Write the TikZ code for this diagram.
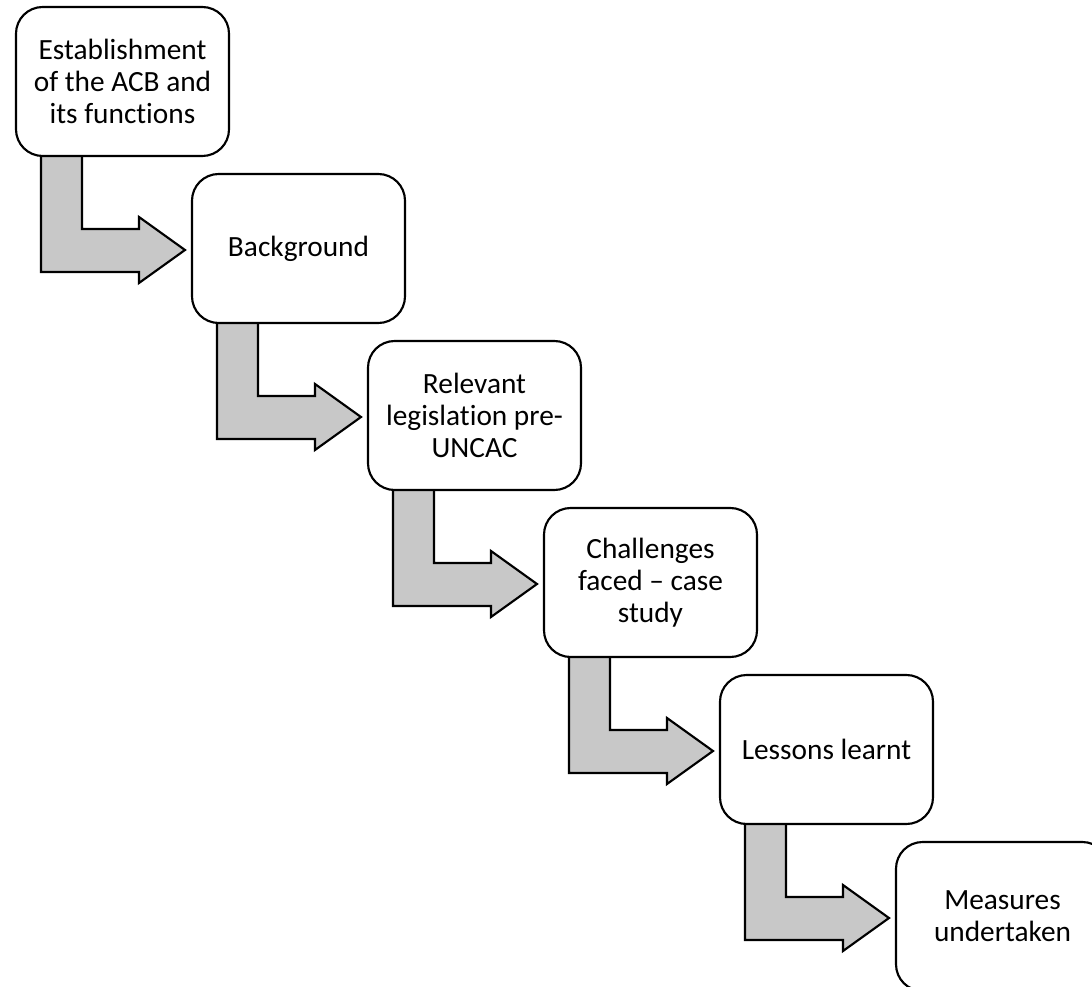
\documentclass[tikz,border=0pt]{standalone}
\usepackage{fontspec}
\setmainfont{Carlito}[Ligatures=NoCommon]
\usetikzlibrary{calc,backgrounds}
\definecolor{arrowgray}{RGB}{200,200,200}
\begin{document}
\begin{tikzpicture}[x=0.75pt,y=-0.75pt,
  stepbox/.style={draw, line width=1.6pt, rounded corners=20pt, fill=white,
    minimum width=159.75pt, minimum height=111.75pt, align=center,
    font=\fontsize{22}{23.8}\selectfont, inner sep=0pt, outer sep=0pt},
  bentarrow/.style={draw, line width=1.6pt, fill=arrowgray, line join=miter}]
\useasboundingbox (0,0) rectangle (1092,987);
\clip (0,0) rectangle (1092,987);
\node[stepbox] (b1) at (122.5,81.5) {Establishment\\of the ACB and\\its functions};
\node[stepbox] (b2) at (298.5,248.5) {Background};
\node[stepbox] (b3) at (474.5,415.5) {Relevant\\legislation pre-\\UNCAC};
\node[stepbox] (b4) at (650.5,582.5) {Challenges\\faced -- case\\study};
\node[stepbox] (b5) at (826.5,749.5) {Lessons learnt};
\node[stepbox] (b6) at (1002.5,916.5) {Measures\\undertaken};
\begin{scope}[on background layer]
\foreach \a/\b in {b1/b2,b2/b3,b3/b4,b4/b5,b5/b6}{
  \draw[bentarrow] ($(\a.south west)+(25,-10)$) -- ($(\a.south west)+(25,116)$)
    -- ($(\a.south west)+(123,116)$) -- ($(\a.south west)+(123,127)$)
    -- ($(\b.west)+(-7,1.5)$) -- ($(\a.south west)+(123,61)$)
    -- ($(\a.south west)+(123,73)$) -- ($(\a.south west)+(66,73)$)
    -- ($(\a.south west)+(66,-10)$);
}
\end{scope}
\end{tikzpicture}
\end{document}
